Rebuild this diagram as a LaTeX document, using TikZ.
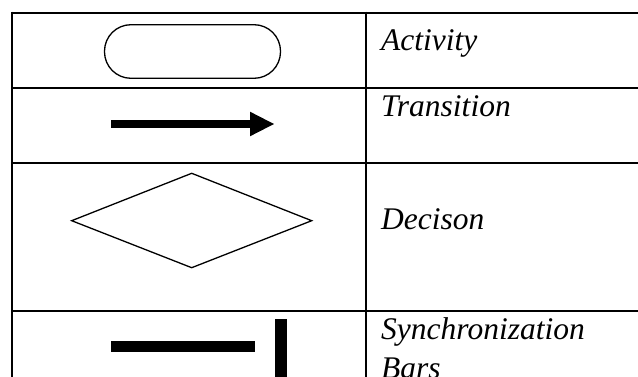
\documentclass[tikz,border=0pt]{standalone}
\usepackage{fontspec}
\setmainfont{Liberation Serif}
\begin{document}
\begin{tikzpicture}[x=1pt,y=-1pt,
  grid/.style={line width=2pt,black},
  outline/.style={line width=1.3pt,black,line join=miter},
  label/.style={anchor=base west,inner sep=0pt,font=\fontsize{31.5}{36}\selectfont\itshape}]
\useasboundingbox (0,0) rectangle (638,377);
% table rules
\draw[grid] (12,12.7) -- (640,12.7);
\draw[grid] (11,87.7) -- (640,87.7);
\draw[grid] (11,162.7) -- (640,162.7);
\draw[grid] (11,310.7) -- (640,310.7);
\draw[grid] (12,11.7) -- (12,380);
\draw[grid] (366,11.7) -- (366,380);
% activity
\draw[outline,rounded corners=26.5pt] (104.5,24.7) rectangle (280.5,78.3);
% transition
\fill (110.7,120.2) rectangle (250,127.8);
\fill (250,111.7) -- (274,124) -- (250,136.3) -- cycle;
% decision
\draw[outline] (71.7,220.7) -- (191.7,173.3) -- (311.7,220.7) -- (191.7,267.7) -- cycle;
% synchronization bars
\fill (110.7,340.7) rectangle (255,352.3);
\fill (274.5,319) rectangle (287,380);
% labels
\node[label] (tact) at (381,51) {Activity};
\node[label] (ttra) at (381,117) {Transition};
\node[label] (tdec) at (381,229.5) {Decison};
\node[label] (tsyn) at (381,339) {Synchronization};
\node[label] (tbar) at (381,378) {Bars};
\end{tikzpicture}
\end{document}
